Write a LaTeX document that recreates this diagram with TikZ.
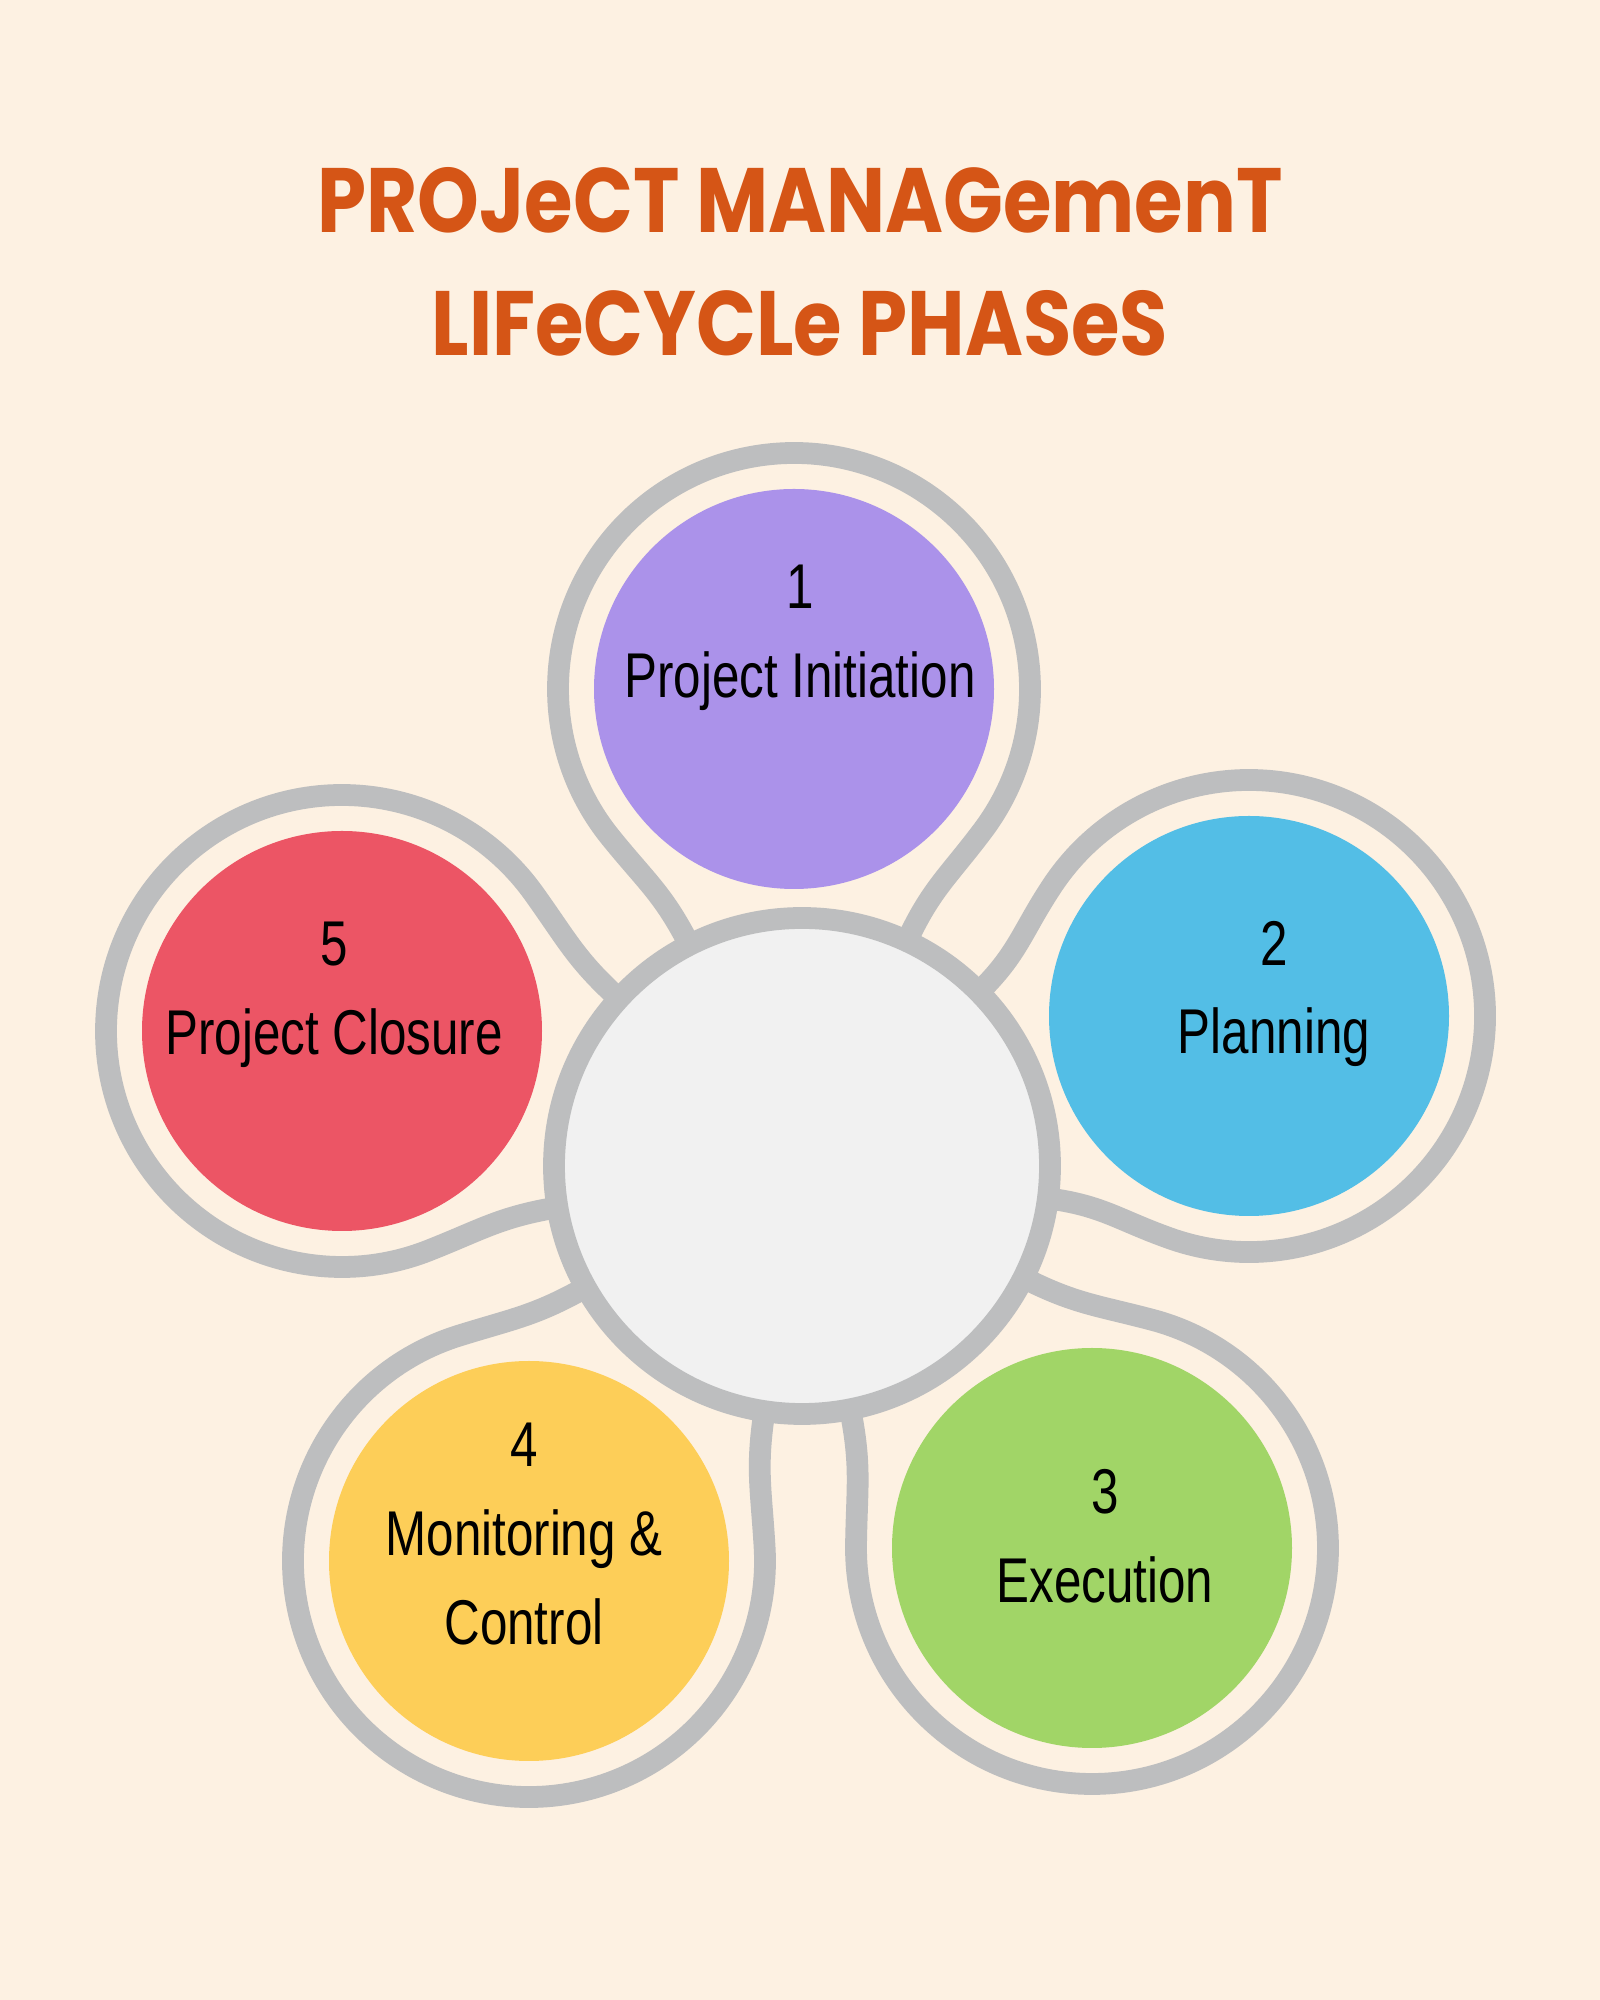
\documentclass[tikz,border=0pt]{standalone}
\usepackage{fontspec}
\setmainfont[FakeStretch=0.78]{Liberation Sans}
\newfontfamily\titlefont[FakeStretch=0.86]{Poppins}
\usetikzlibrary{calc}
\definecolor{paper}{HTML}{FDF1E2}
\definecolor{rimgray}{HTML}{BDBEBF}
\definecolor{hubgray}{HTML}{F1F1F1}
\definecolor{lilac}{HTML}{AB92EA}
\definecolor{sky}{HTML}{53BEE6}
\definecolor{leaf}{HTML}{A1D567}
\definecolor{sun}{HTML}{FDCE58}
\definecolor{coral}{HTML}{EC5565}
\definecolor{rust}{HTML}{D55516}
\begin{document}
\begin{tikzpicture}[phase/.style = {circle, inner sep = 0pt, minimum size = 4cm, fill = #1},
				rim/.style = {draw = rimgray, line width = 6.2pt},
				tag/.style = {align = center, inner sep = 0pt, font = \fontsize{18}{25.3}\selectfont}]
				\tikzstyle{head}=[font = \titlefont\bfseries\fontsize{26}{30}\selectfont, text = rust]
				\fill[paper] (0,0) rectangle (16,20);
				\useasboundingbox (0,0) rectangle (16,20);
				\node (title1) at (8.0, 18.0) [head] {PROJeCT MANAGemenT};
				\node (title2) at (8.0, 16.77) [head] {LIFeCYCLe PHASeS};
				\coordinate (hub) at (8.02, 8.34);
				\node (p1) at (7.94, 13.11) [phase = lilac] {};
				\node (p2) at (12.49, 9.84) [phase = sky] {};
				\node (p3) at (10.92, 4.52) [phase = leaf] {};
				\node (p4) at (5.29, 4.39) [phase = sun] {};
				\node (p5) at (3.42, 9.69) [phase = coral] {};
				\filldraw[rim, fill = hubgray] (hub) circle (2.48);
				\foreach \p/\a in {p1/91, p2/18.5, p3/-52.8, p4/-124.7, p5/163.6} {
					\pgfmathsetmacro{\qa}{\a-26}
					\pgfmathsetmacro{\qb}{\a+26}
					\pgfmathsetmacro{\sa}{\a+232}
					\pgfmathsetmacro{\sb}{\a+488}
					\pgfmathsetmacro{\ia}{\a+142}
					\pgfmathsetmacro{\ob}{\a+218}
					\draw[rim] ([shift={(\qa:2.48)}]hub) to[out=\qa, in=\ia, looseness=1.1] ([shift={(\sa:2.36)}]\p.center)
						arc[start angle=\sa, end angle=\sb, radius=2.36]
						to[out=\ob, in=\qb, looseness=1.1] ([shift={(\qb:2.48)}]hub);
				}
				\node (t1) at ([shift={(0.06,0.51)}]p1) [tag] {1\\Project Initiation};
				\node (t2) at ([shift={(0.25,0.22)}]p2) [tag] {2\\Planning};
				\node (t3) at ([shift={(0.13,0.12)}]p3) [tag] {3\\Execution};
				\node (t4) at ([shift={(-0.05,0.27)}]p4) [tag] {4\\Monitoring \&\\Control};
				\node (t5) at ([shift={(-0.08,0.36)}]p5) [tag] {5\\Project Closure};
\end{tikzpicture}
\end{document}
